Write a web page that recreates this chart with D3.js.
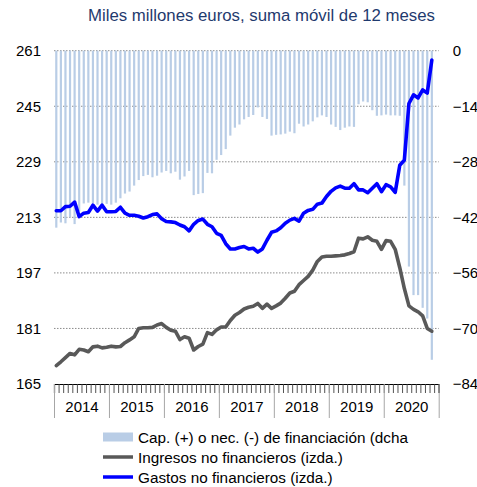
<!DOCTYPE html>
<html>
<head>
<meta charset="utf-8">
<script src="https://cdn.jsdelivr.net/npm/d3@7/dist/d3.min.js"></script>
<style>
  html, body { margin: 0; padding: 0; background: #fff; }
  svg { display: block; font-family: "Liberation Sans", Arial, sans-serif; }
</style>
</head>
<body>
<svg id="chart" width="477" height="487"></svg>
<script>
// Monthly series, Jan 2014 onwards (12-month rolling sums, bn EUR)
const years = ["2014", "2015", "2016", "2017", "2018", "2019", "2020"];
const leftTicks = [165, 181, 197, 213, 229, 245, 261];
const rightTicks = [-84, -70, -56, -42, -28, -14, 0];

// Capacidad (+) / necesidad (-) de financiación, right axis
const capacidad = [
  -44.6, -43.3, -43.5, -42.0, -43.7, -40.5, -38.5, -38.3, -38.5, -38.8, -38.8, -38.6,
  -38.8, -38.3, -37.2, -36.0, -35.5, -34.0, -32.6, -31.6, -31.3, -31.9, -31.5, -30.7,
  -30.3, -30.9, -30.5, -32.5, -31.7, -30.3, -36.4, -36.1, -35.9, -30.8, -30.9, -27.5,
  -26.3, -24.8, -21.4, -19.4, -18.6, -17.3, -16.7, -16.2, -14.3, -16.7, -17.2, -21.4,
  -21.2, -21.1, -20.9, -20.4, -20.8, -18.4, -19.1, -18.6, -17.8, -16.8, -16.3, -16.7,
  -18.6, -19.2, -20.0, -19.4, -19.1, -19.2, -13.5, -12.8, -13.0, -15.0, -16.4, -16.3,
  -16.1, -16.3, -16.3, -16.4, -34.0, -54.4, -61.6, -61.6, -64.8, -67.5, -77.9
];

// Ingresos no financieros, left axis
const ingresos = [
  170.3, 171.4, 172.6, 173.8, 173.4, 175.0, 174.8, 174.3, 175.7, 175.9, 175.4, 175.6,
  175.9, 175.7, 175.8, 176.9, 177.7, 178.6, 181.0, 181.2, 181.2, 181.3, 182.0, 182.4,
  181.3, 180.5, 180.2, 177.8, 178.6, 178.2, 174.8, 175.8, 176.5, 179.8, 179.3, 180.6,
  181.4, 181.4, 183.3, 184.8, 185.6, 186.6, 187.1, 187.4, 188.2, 186.8, 188.0, 186.8,
  187.5, 188.3, 189.7, 191.2, 191.7, 193.6, 194.8, 196.0, 197.8, 200.3, 201.6, 201.8,
  201.8, 201.9, 202.0, 202.2, 202.6, 203.1, 207.0, 206.8, 207.4, 206.4, 206.1, 203.8,
  206.3, 206.1, 203.8, 198.5, 192.5, 187.5, 186.5, 185.8, 184.6, 181.0, 180.2
];

// Gastos no financieros, left axis
const gastos = [
  214.9, 214.9, 216.1, 216.2, 217.4, 213.2, 214.2, 214.4, 216.5, 214.8, 216.5, 214.6,
  214.6, 214.7, 215.9, 214.2, 213.6, 213.6, 213.3, 212.8, 213.2, 213.8, 214.0, 212.6,
  211.8, 211.7, 211.5, 210.8, 210.3, 209.1, 211.0, 212.1, 212.5, 211.0, 210.3, 208.4,
  207.8, 205.4, 203.9, 203.9, 204.3, 204.6, 203.9, 204.1, 203.0, 203.9, 206.4, 208.7,
  209.1, 210.0, 211.3, 212.2, 212.7, 211.9, 214.2, 215.0, 215.3, 216.8, 217.1, 219.0,
  220.5, 221.5, 222.0, 221.4, 221.4, 222.7, 220.9, 220.9, 220.1, 221.4, 222.7, 220.4,
  222.4, 221.8, 220.2, 228.0, 229.5, 245.8, 248.3, 247.4, 249.7, 248.8, 258.3
];

const legendLabels = [
  "Cap. (+) o nec. (-) de financiación (dcha",
  "Ingresos no financieros (izda.)",
  "Gastos no financieros (izda.)"
];

const colors = { bar: "#b9cde6", ingresos: "#595959", gastos: "#0000ff", title: "#1f3a6e" };
const tickFont = "15px";

const svg = d3.select("#chart");
const plot = { left: 54, right: 438.7, top: 50.7, bottom: 384 };
const nMonths = years.length * 12;

const x = d3.scaleLinear().domain([0, nMonths]).range([plot.left, plot.right]);
const yL = d3.scaleLinear().domain([165, 261]).range([plot.bottom, plot.top]);
const yR = d3.scaleLinear().domain([-84, 0]).range([plot.bottom, plot.top]);

// Title
svg.append("text")
  .attr("x", 88).attr("y", 21)
  .attr("fill", colors.title)
  .style("font-size", "16.8px")
  .text("Miles millones euros, suma móvil de 12 meses");

// Dotted horizontal gridlines
svg.append("g")
  .selectAll("line")
  .data(leftTicks.filter(d => d !== 165))
  .join("line")
  .attr("x1", plot.left).attr("x2", plot.right)
  .attr("y1", d => yL(d)).attr("y2", d => yL(d))
  .attr("stroke", "#8c8c8c")
  .attr("stroke-width", 1)
  .attr("stroke-dasharray", "1.5,1.5");

// Financing balance bars (hang from zero at the top)
const barW = 2.2;
svg.append("g")
  .selectAll("rect")
  .data(capacidad)
  .join("rect")
  .attr("x", (d, i) => x(i + 0.5) - barW / 2)
  .attr("y", yR(0))
  .attr("width", barW)
  .attr("height", d => yR(d) - yR(0))
  .attr("fill", colors.bar);

// Lines
const lineL = d3.line().x((d, i) => x(i + 0.5)).y(d => yL(d)).curve(d3.curveLinear);
svg.append("path")
  .datum(ingresos)
  .attr("d", lineL)
  .attr("fill", "none")
  .attr("stroke", colors.ingresos)
  .attr("stroke-width", 3.6)
  .attr("stroke-linejoin", "round")
  .attr("stroke-linecap", "round");
svg.append("path")
  .datum(gastos)
  .attr("d", lineL)
  .attr("fill", "none")
  .attr("stroke", colors.gastos)
  .attr("stroke-width", 3.6)
  .attr("stroke-linejoin", "round")
  .attr("stroke-linecap", "round");

// Left axis labels
const gLeft = svg.append("g")
  .attr("transform", `translate(${plot.left},0)`)
  .call(d3.axisLeft(yL).tickValues(leftTicks).tickSize(0).tickPadding(13).tickFormat(d3.format("d")));
gLeft.select(".domain").remove();

// Right axis labels
const gRight = svg.append("g")
  .attr("transform", `translate(${plot.right},0)`)
  .call(d3.axisRight(yR).tickValues(rightTicks).tickSize(0).tickPadding(14).tickFormat(d3.format("d")));
gRight.select(".domain").remove();

[gLeft, gRight].forEach(g => g.selectAll("text")
  .attr("fill", "#000")
  .style("font-size", tickFont)
  .style("font-family", "'Liberation Sans', Arial, sans-serif"));

// Bottom axis: month ticks, year separators, year labels
const gMonths = svg.append("g")
  .attr("transform", `translate(0,${plot.bottom})`)
  .call(d3.axisBottom(x).tickValues(d3.range(0, nMonths + 1)).tickSize(9).tickFormat(""));
gMonths.select(".domain").attr("stroke", "#000").attr("stroke-width", 1.2);
gMonths.selectAll(".tick line").attr("stroke", "#404040").attr("stroke-width", 0.9);

const gYears = svg.append("g")
  .attr("transform", `translate(0,${plot.bottom})`)
  .call(d3.axisBottom(x).tickValues(d3.range(0, nMonths + 1, 12)).tickSize(34).tickFormat(""));
gYears.select(".domain").remove();
gYears.selectAll(".tick line").attr("stroke", "#a6a6a6").attr("stroke-width", 1);

const gYearLabels = svg.append("g")
  .attr("transform", `translate(0,${plot.bottom})`)
  .call(d3.axisBottom(x).tickValues(years.map((y, i) => i * 12 + 6)).tickSize(0).tickPadding(17)
    .tickFormat((d, i) => years[i]));
gYearLabels.select(".domain").remove();
gYearLabels.selectAll("text")
  .attr("fill", "#000")
  .style("font-size", tickFont)
  .style("font-family", "'Liberation Sans', Arial, sans-serif");

// Legend
const legend = svg.append("g").attr("transform", "translate(103,0)");
const legendY = [437, 457, 477];
legend.append("rect")
  .attr("x", 0).attr("y", legendY[0] - 4.5)
  .attr("width", 30).attr("height", 9)
  .attr("fill", colors.bar);
[colors.ingresos, colors.gastos].forEach((c, i) => {
  legend.append("line")
    .attr("x1", 0).attr("x2", 30)
    .attr("y1", legendY[i + 1]).attr("y2", legendY[i + 1])
    .attr("stroke", c).attr("stroke-width", 3.5);
});
legend.selectAll("text")
  .data(legendLabels)
  .join("text")
  .attr("x", 35)
  .attr("y", (d, i) => legendY[i])
  .attr("dy", "0.36em")
  .attr("fill", "#000")
  .style("font-size", "15.3px")
  .text(d => d);
</script>
</body>
</html>
